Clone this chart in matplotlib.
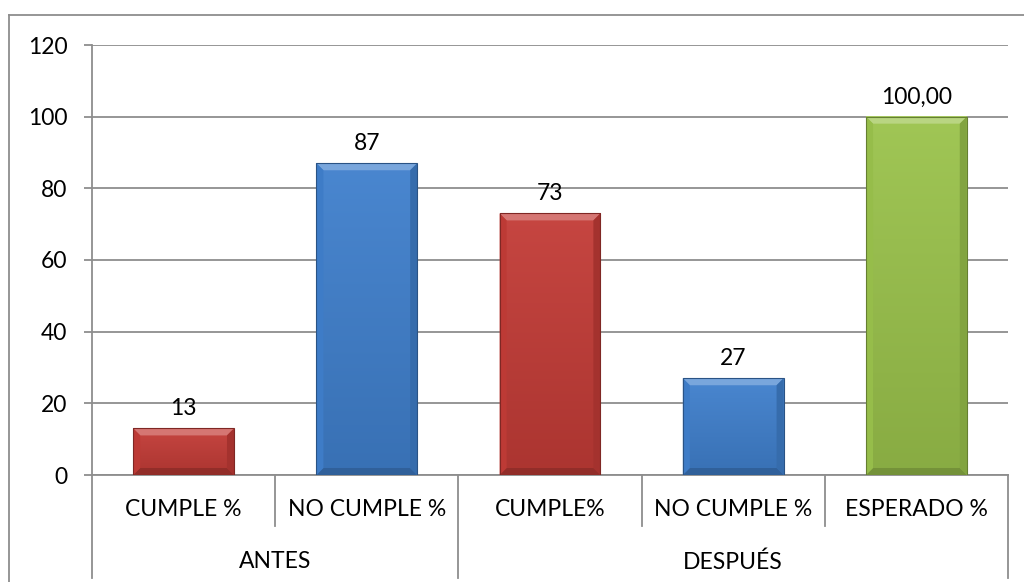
import matplotlib
matplotlib.use("Agg")
import matplotlib.pyplot as plt
import numpy as np
from matplotlib.lines import Line2D
from matplotlib.patches import Polygon
from matplotlib.colors import to_rgb
from matplotlib.transforms import blended_transform_factory

# ---- data ----
categories = ["CUMPLE %", "NO CUMPLE %", "CUMPLE%", "NO CUMPLE %", "ESPERADO %"]
values = [13, 87, 73, 27, 100]
label_decimals = [0, 0, 0, 0, 2]
groups = ["ANTES", "DESPUÉS"]
group_spans = [(0, 1), (2, 4)]
bar_colors = ["#C33C37", "#4080CD", "#C33C37", "#4080CD", "#9BC34C"]
y_ticks = [0, 20, 40, 60, 80, 100, 120]

plt.rcParams["font.family"] = ["Lato", "DejaVu Sans"]
FS = 16.5
GRAY = "#8E8E8E"

W, H = 1024, 582
fig = plt.figure(figsize=(W / 100, H / 100), dpi=100)
fig.patch.set_facecolor("white")

ax_l, ax_r, ax_t, ax_b = 92, 1008, 45, 475
ax = fig.add_axes([ax_l / W, 1 - ax_b / H, (ax_r - ax_l) / W, (ax_b - ax_t) / H])

x = np.arange(len(categories))
bars = ax.bar(x, values, width=0.55, color=bar_colors, zorder=3, linewidth=0)

ax.set_xlim(-0.5, len(categories) - 0.5)
ax.set_ylim(0, 120)
ax.set_yticks(y_ticks)
ax.set_yticklabels([str(t) for t in y_ticks], fontsize=FS)
ax.tick_params(axis="y", direction="out", length=5.8, width=1.3, color=GRAY, pad=12)
ax.tick_params(axis="x", bottom=False, labelbottom=False)
ax.yaxis.grid(True, color=GRAY, linewidth=1.3, zorder=0)
ax.set_axisbelow(True)
for s in ["top", "right"]:
    ax.spines[s].set_visible(False)
for s in ["left", "bottom"]:
    ax.spines[s].set_color(GRAY)
    ax.spines[s].set_linewidth(1.3)


def mix(c, t, amount):
    c = np.array(to_rgb(c))
    t = np.array(to_rgb(t))
    return tuple(c + (t - c) * amount)


# bevelled, shaded bars
inv = ax.transData.inverted()
bev = 7.0
for rect, col in zip(bars.patches, bar_colors):
    (x0, y0), (x1, y1) = ax.transData.transform(
        [(rect.get_x(), rect.get_y()), (rect.get_x() + rect.get_width(), rect.get_height())]
    )
    b = min(bev, (y1 - y0) / 2.5)
    # face gradient (slightly lighter top, darker bottom)
    top_c = np.array(mix(col, "white", 0.05))
    bot_c = np.array(mix(col, "black", 0.12))
    n = 64
    t = np.linspace(0, 1, n)[:, None]
    grad = top_c[None, :] * (1 - t) + bot_c[None, :] * t
    grad = np.repeat(grad[:, None, :], 2, axis=1)
    ax.imshow(grad, extent=(rect.get_x(), rect.get_x() + rect.get_width(), 0, rect.get_height()),
              aspect="auto", zorder=3.5, interpolation="bilinear")

    def poly(pts, c):
        d = inv.transform(pts)
        ax.add_patch(Polygon(d, closed=True, facecolor=c, edgecolor="none", zorder=4))

    poly([(x0, y1), (x1, y1), (x1 - b, y1 - b), (x0 + b, y1 - b)], mix(col, "white", 0.30))
    poly([(x0, y0), (x1, y0), (x1 - b, y0 + b), (x0 + b, y0 + b)], mix(col, "black", 0.25))
    poly([(x0, y0), (x0, y1), (x0 + b, y1 - b), (x0 + b, y0 + b)], mix(col, "black", 0.03))
    poly([(x1, y0), (x1, y1), (x1 - b, y1 - b), (x1 - b, y0 + b)], mix(col, "black", 0.16))
    ax.add_patch(plt.Rectangle((rect.get_x(), 0), rect.get_width(), rect.get_height(),
                               facecolor="none", edgecolor=mix(col, "black", 0.35),
                               linewidth=0.8, zorder=4.5))

ax.set_xlim(-0.5, len(categories) - 0.5)
ax.set_ylim(0, 120)

# value labels
for xi, v, d in zip(x, values, label_decimals):
    txt = f"{v:.{d}f}".replace(".", ",")
    ax.annotate(txt, (xi, v), xytext=(0, 14), textcoords="offset points",
                ha="center", va="center", fontsize=FS, color="black", zorder=6)

# two-level category axis
plot_h = ax_b - ax_t
trans = blended_transform_factory(ax.transData, ax.transAxes)
short_y = -(526 - ax_b) / plot_h
long_y = -(578 - ax_b) / plot_h
long_edges = {-0.5, 1.5, len(categories) - 0.5}
for e in np.arange(-0.5, len(categories), 1.0):
    yb = long_y if e in long_edges else short_y
    ax.add_line(Line2D([e, e], [0, yb], transform=trans, color=GRAY, linewidth=1.3,
                       clip_on=False, zorder=2))

cat_y = -(509 - ax_b) / plot_h
grp_y = -(562 - ax_b) / plot_h
for xi, c in zip(x, categories):
    ax.text(xi, cat_y, c, transform=trans, ha="center", va="center", fontsize=FS)
for g, (a, b_) in zip(groups, group_spans):
    ax.text((a + b_) / 2, grp_y, g, transform=trans, ha="center", va="center", fontsize=FS)

# outer chart frame
fig.add_artist(Line2D([9 / W, 9 / W], [0, 1 - 15 / H], transform=fig.transFigure,
                      color=GRAY, linewidth=1.3))
fig.add_artist(Line2D([9 / W, 1], [1 - 15 / H, 1 - 15 / H], transform=fig.transFigure,
                      color=GRAY, linewidth=1.3))

fig.savefig("out.png", dpi=100, facecolor="white")
